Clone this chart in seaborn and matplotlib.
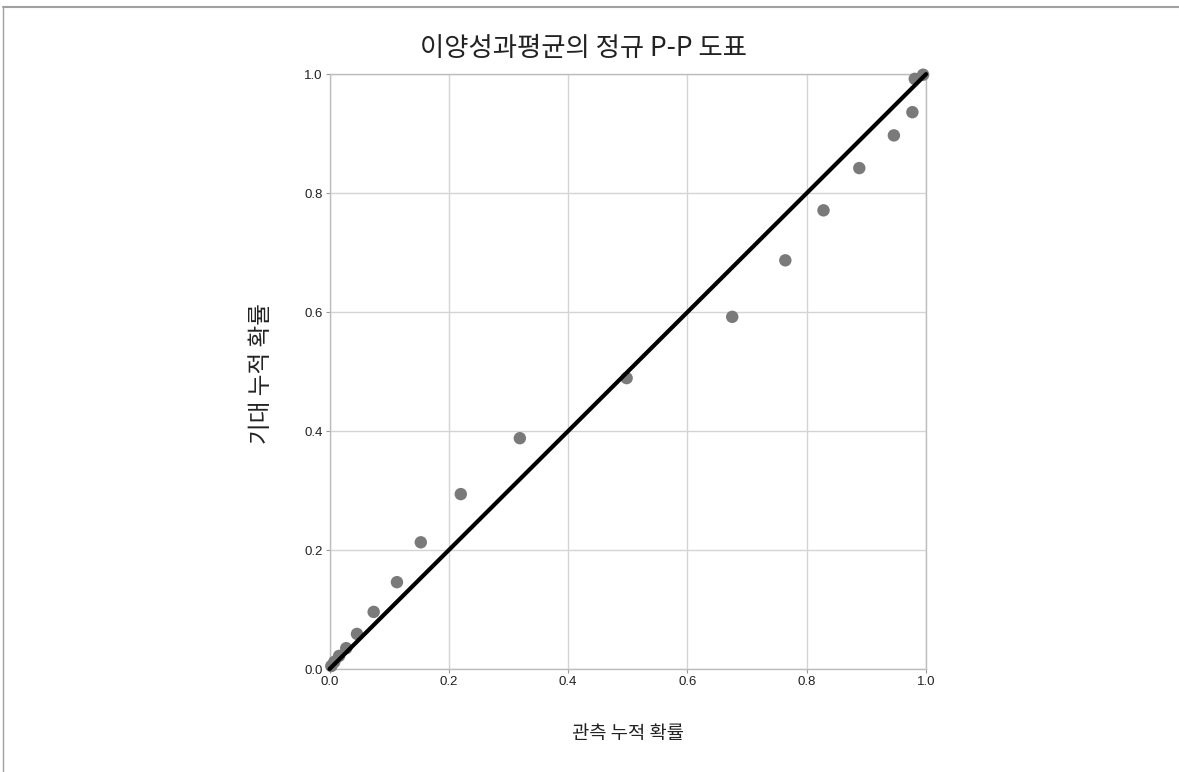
import matplotlib
matplotlib.use("Agg")
import matplotlib.pyplot as plt
import seaborn as sns
import pandas as pd
from matplotlib.lines import Line2D

# Data
observed_cum = [0.003, 0.008, 0.016, 0.028, 0.046, 0.074, 0.113, 0.153, 0.220,
                0.319, 0.498, 0.675, 0.764, 0.828, 0.888, 0.946, 0.977, 0.981, 0.995]
expected_cum = [0.005, 0.012, 0.022, 0.035, 0.059, 0.096, 0.146, 0.213, 0.294,
                0.388, 0.489, 0.592, 0.687, 0.771, 0.842, 0.897, 0.936, 0.992, 0.999]
diag_x = [0.0, 1.0]
diag_y = [0.0, 1.0]
ticks = [0.0, 0.2, 0.4, 0.6, 0.8, 1.0]
tick_labels = ["0.0", "0.2", "0.4", "0.6", "0.8", "1.0"]

title = "이양성과평균의 정규 P-P 도표"
xlabel = "관측 누적 확률"
ylabel = "기대 누적 확률"

sns.set_theme(style="white")
plt.rcParams['font.family'] = ['Noto Sans CJK KR', 'DejaVu Sans']

fig = plt.figure(figsize=(11.79, 7.72), dpi=100)
ax = fig.add_axes([0.2795, 0.1334, 0.506, 0.7706])

df = pd.DataFrame({"obs": observed_cum, "exp": expected_cum})
sns.scatterplot(data=df, x="obs", y="exp", ax=ax, color="#7a7a7a", s=80,
                edgecolor="none", zorder=3, clip_on=False)
sns.lineplot(x=diag_x, y=diag_y, ax=ax, color="black", linewidth=3.0,
             zorder=4, clip_on=False)

ax.set_xlim(0, 1)
ax.set_ylim(0, 1)
ax.set_xticks(ticks)
ax.set_yticks(ticks)
ax.set_xticklabels(tick_labels, family=['Liberation Sans', 'DejaVu Sans'], fontsize=9.5)
ax.set_yticklabels(tick_labels, family=['Liberation Sans', 'DejaVu Sans'], fontsize=9.5)
ax.grid(True, color="#d4d4d4", linewidth=1.0, zorder=0)
ax.set_axisbelow(True)
for sp in ax.spines.values():
    sp.set_color("#bdbdbd")
    sp.set_linewidth(1.0)
ax.tick_params(axis="both", length=3, width=0.8, color="#9a9a9a", pad=2,
               direction="out", left=True, bottom=True)
ax.tick_params(axis="both", labelcolor="#222222")

ax.set_xlabel("")
ax.set_ylabel("")
fig.text(628 / 1179, 1 - 733 / 772, xlabel, ha="center", va="center", fontsize=13.5, color="#222222")
fig.text(262 / 1179, 1 - 374 / 772, ylabel, ha="center", va="center", fontsize=17,
         rotation=90, color="#222222")
fig.text(583 / 1179, 1 - 49 / 772, title, ha="center", va="center", fontsize=19, color="#222222")

# outer frame lines (top and left)
fig.add_artist(Line2D([3 / 1179, 1.0], [1 - 7 / 772, 1 - 7 / 772], transform=fig.transFigure,
                      color="#a0a0a0", linewidth=1.5))
fig.add_artist(Line2D([3 / 1179, 3 / 1179], [0, 1 - 7 / 772], transform=fig.transFigure,
                      color="#a0a0a0", linewidth=1.0))

fig.savefig("out.png", dpi=100)
